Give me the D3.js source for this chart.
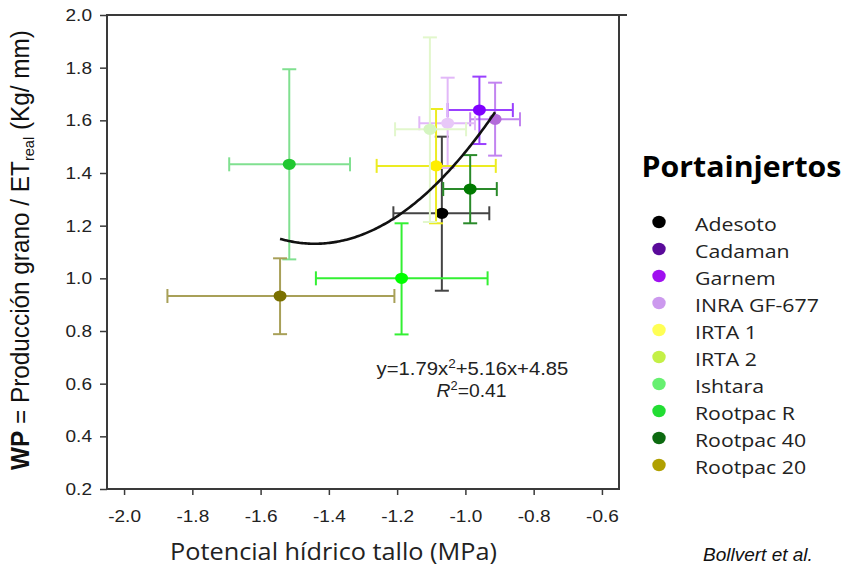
<html>
<meta charset="utf-8" />
<head>
<title>WP vs potencial hidrico</title>
<script src="https://cdn.jsdelivr.net/npm/d3@7/dist/d3.min.js"></script>
<style>
	body { margin: 0; background: #fff; }
	svg { display: block; }
</style>
<script>
// portainjertos y sus valores
const rootstocks = ['Adesoto', 'Cadaman', 'Garnem', 'INRA GF-677', 'IRTA 1', 'IRTA 2', 'Ishtara', 'Rootpac R', 'Rootpac 40', 'Rootpac 20'];
const potencial = [-1.069, -0.913, -0.959, -1.052, -1.086, -1.104, -1.516, -1.187, -0.986, -1.543];
const potMin    = [-1.211, -0.986, -1.052, -1.135, -1.260, -1.206, -1.692, -1.438, -1.065, -1.873];
const potMax    = [-0.930, -0.840, -0.861, -0.972, -0.911, -0.998, -1.338, -0.935, -0.908, -1.208];
const wp        = [1.247, 1.604, 1.639, 1.589, 1.427, 1.566, 1.433, 1.000, 1.339, 0.933];
const wpMin     = [0.953, 1.466, 1.510, 1.419, 1.209, 1.214, 1.072, 0.787, 1.209, 0.788];
const wpMax     = [1.538, 1.743, 1.766, 1.762, 1.643, 1.915, 1.794, 1.209, 1.468, 1.076];

// ajuste cuadratico y = a x^2 + b x + c
const fitCoef = [1.79, 5.16, 4.85];
const fitRange = [-1.543, -0.913];

const xTicks = [-2.0, -1.8, -1.6, -1.4, -1.2, -1.0, -0.8, -0.6];
const yTicks = [0.2, 0.4, 0.6, 0.8, 1.0, 1.2, 1.4, 1.6, 1.8, 2.0];

// colores
const pointColors  = ['#000000', '#b36bd9', '#7f00ff', '#e8c8f8', '#ffee00', '#d4f5c0', '#20c830', '#00ff00', '#007a00', '#7a7000'];
const barColors    = ['#444444', '#c284f0', '#9a40ff', '#e2b8f8', '#ecec22', '#e2f7cc', '#80e090', '#33f033', '#2a8a2a', '#a8a058'];
const legendColors = ['#000000', '#5a0a9a', '#a010f0', '#cc99ee', '#ffff55', '#c4f046', '#66f070', '#22dd33', '#0c6a10', '#b0a000'];

window.onload = function() {
	const svg = d3.select('svg');

	let xScale = d3.scaleLinear().domain([-2.05, -0.55]).range([107, 619]);
	let yScale = d3.scaleLinear().domain([0.2, 2.0]).range([489, 15]);

	// escala horizontal del texto (la imagen original esta algo estirada)
	const stretch = 1.12;

	// marco
	svg.append('rect')
	.attr('x', 107).attr('y', 15)
	.attr('width', 619 - 107).attr('height', 489 - 15)
	.style('fill', 'none').style('stroke', '#3a3a3a').style('stroke-width', '2px');
	svg.append('line')
	.attr('x1', 619).attr('x2', 627).attr('y1', 15).attr('y2', 15)
	.style('stroke', '#3a3a3a').style('stroke-width', '2px');

	let xAxis = d3.axisBottom(xScale).tickValues(xTicks).tickSize(6).tickSizeOuter(0)
		.tickFormat((d) => d.toFixed(1));
	let gx = svg.append('g').attr('transform', 'translate(0, 489)').call(xAxis);
	gx.select('path.domain').remove();
	gx.selectAll('line').style('stroke', '#3a3a3a').style('stroke-width', '1.5px');
	gx.selectAll('text')
	.attr('y', 33).attr('dy', null)
	.attr('transform', 'scale(' + stretch + ',1)')
	.attr('x', 0)
	.style('font-family', '"Liberation Sans", Arial, sans-serif')
	.style('font-size', '17px').style('fill', '#222');

	let yAxis = d3.axisLeft(yScale).tickValues(yTicks).tickSize(7).tickSizeOuter(0)
		.tickFormat((d) => d.toFixed(1));
	let gy = svg.append('g').attr('transform', 'translate(107, 0)').call(yAxis);
	gy.select('path.domain').remove();
	gy.selectAll('line').style('stroke', '#3a3a3a').style('stroke-width', '1.5px');
	gy.selectAll('text')
	.attr('x', -15 / stretch)
	.attr('transform', 'scale(' + stretch + ',1)')
	.style('font-family', '"Liberation Sans", Arial, sans-serif')
	.style('font-size', '17px').style('fill', '#222');

	// barras de error y puntos
	const idx = d3.range(rootstocks.length);
	const cap = 7;
	svg.selectAll('g.rs')
	.data(idx).enter()
	.append('g')
	.attr('class', 'rs')
	.each(function(i) {
		const g = d3.select(this);
		const cx = xScale(potencial[i]), cy = yScale(wp[i]);
		const segs = [
			[cx, yScale(wpMin[i]), cx, yScale(wpMax[i])],
			[cx - cap, yScale(wpMin[i]), cx + cap, yScale(wpMin[i])],
			[cx - cap, yScale(wpMax[i]), cx + cap, yScale(wpMax[i])],
			[xScale(potMin[i]), cy, xScale(potMax[i]), cy],
			[xScale(potMin[i]), cy - cap, xScale(potMin[i]), cy + cap],
			[xScale(potMax[i]), cy - cap, xScale(potMax[i]), cy + cap]
		];
		g.selectAll('line').data(segs).enter()
		.append('line')
		.attr('x1', (s) => s[0]).attr('y1', (s) => s[1])
		.attr('x2', (s) => s[2]).attr('y2', (s) => s[3])
		.style('stroke', barColors[i])
		.style('stroke-width', '2px');

		g.append('ellipse')
		.attr('cx', cx).attr('cy', cy)
		.attr('rx', 6.5).attr('ry', 5.6)
		.style('fill', pointColors[i]);
	});

	// curva de ajuste
	const fx = (v) => fitCoef[0] * v * v + fitCoef[1] * v + fitCoef[2];
	const xs = d3.range(fitRange[0], fitRange[1], 0.005).concat([fitRange[1]]);
	svg.append('path')
	.datum(xs)
	.attr('d', d3.line().x((d) => xScale(d)).y((d) => yScale(fx(d))).curve(d3.curveBasis))
	.style('fill', 'none')
	.style('stroke', '#111')
	.style('stroke-width', '2.6px');

	// ajusta el ancho de un texto
	function fit(sel, w) {
		const len = sel.node().getComputedTextLength();
		sel.attr('transform', 'scale(' + (w / len) + ',1)');
	}

	// ecuacion
	let eq = svg.append('g').attr('transform', 'translate(472.5, 375)')
	.append('text')
	.attr('text-anchor', 'middle')
	.style('font-family', '"Liberation Sans", Arial, sans-serif')
	.style('font-size', '18px').style('fill', '#222');
	eq.append('tspan').text('y=1.79x');
	eq.append('tspan').attr('dy', -7).style('font-size', '12px').text('2');
	eq.append('tspan').attr('dy', 7).text('+5.16x+4.85');
	fit(eq, 192);

	let r2 = svg.append('g').attr('transform', 'translate(471.5, 397)')
	.append('text')
	.attr('text-anchor', 'middle')
	.style('font-family', '"Liberation Sans", Arial, sans-serif')
	.style('font-size', '18px').style('fill', '#222');
	r2.append('tspan').style('font-style', 'italic').text('R');
	r2.append('tspan').attr('dy', -7).style('font-size', '12px').text('2');
	r2.append('tspan').attr('dy', 7).text('=0.41');
	fit(r2, 70);

	// titulo eje x
	let xt = svg.append('g').attr('transform', 'translate(333.5, 560)')
	.append('text')
	.attr('text-anchor', 'middle')
	.style('font-family', '"Open Sans", sans-serif')
	.style('font-size', '23px').style('fill', '#222')
	.text('Potencial hídrico tallo (MPa)');
	fit(xt, 327);

	// titulo eje y
	let yt = svg.append('g').attr('transform', 'translate(29, 250) rotate(-90)')
	.append('text')
	.attr('text-anchor', 'middle')
	.style('font-family', '"Liberation Sans", Arial, sans-serif')
	.style('font-size', '25px').style('fill', '#111');
	yt.append('tspan').style('font-weight', 'bold').text('WP');
	yt.append('tspan').text(' = Producción grano / ET');
	yt.append('tspan').attr('dy', 5).style('font-size', '15px').text('real');
	yt.append('tspan').attr('dy', -5).text(' (Kg/ mm)');
	const ylen = yt.node().getComputedTextLength();
	yt.attr('transform', 'scale(' + (440 / ylen) + ',1)');

	// leyenda
	let lt = svg.append('g').attr('transform', 'translate(641.5, 176.5)')
	.append('text')
	.style('font-family', '"Open Sans", sans-serif')
	.style('font-weight', 'bold')
	.style('font-size', '29px').style('fill', '#000')
	.text('Portainjertos');
	fit(lt, 200);

	let legend = svg.selectAll('g.leg')
	.data(idx).enter()
	.append('g')
	.attr('class', 'leg')
	.attr('transform', (i) => 'translate(659, ' + (222 + i * 27) + ')');
	legend.append('ellipse')
	.attr('rx', 6.7).attr('ry', 6.2)
	.style('fill', (i) => legendColors[i]);
	legend.append('text')
	.attr('x', 36 / stretch).attr('y', 8.5)
	.attr('transform', 'scale(' + stretch + ',1)')
	.style('font-family', '"Open Sans", sans-serif')
	.style('font-size', '19px').style('fill', '#222')
	.text((i) => rootstocks[i]);

	// cita
	svg.append('text')
	.attr('x', 703).attr('y', 561)
	.style('font-family', '"Liberation Sans", Arial, sans-serif')
	.style('font-style', 'italic')
	.style('font-size', '19px').style('fill', '#111')
	.text('Bollvert et al.');
}
</script>
</head>
<body>
<svg width="846" height="566"></svg>
</body>
</html>
